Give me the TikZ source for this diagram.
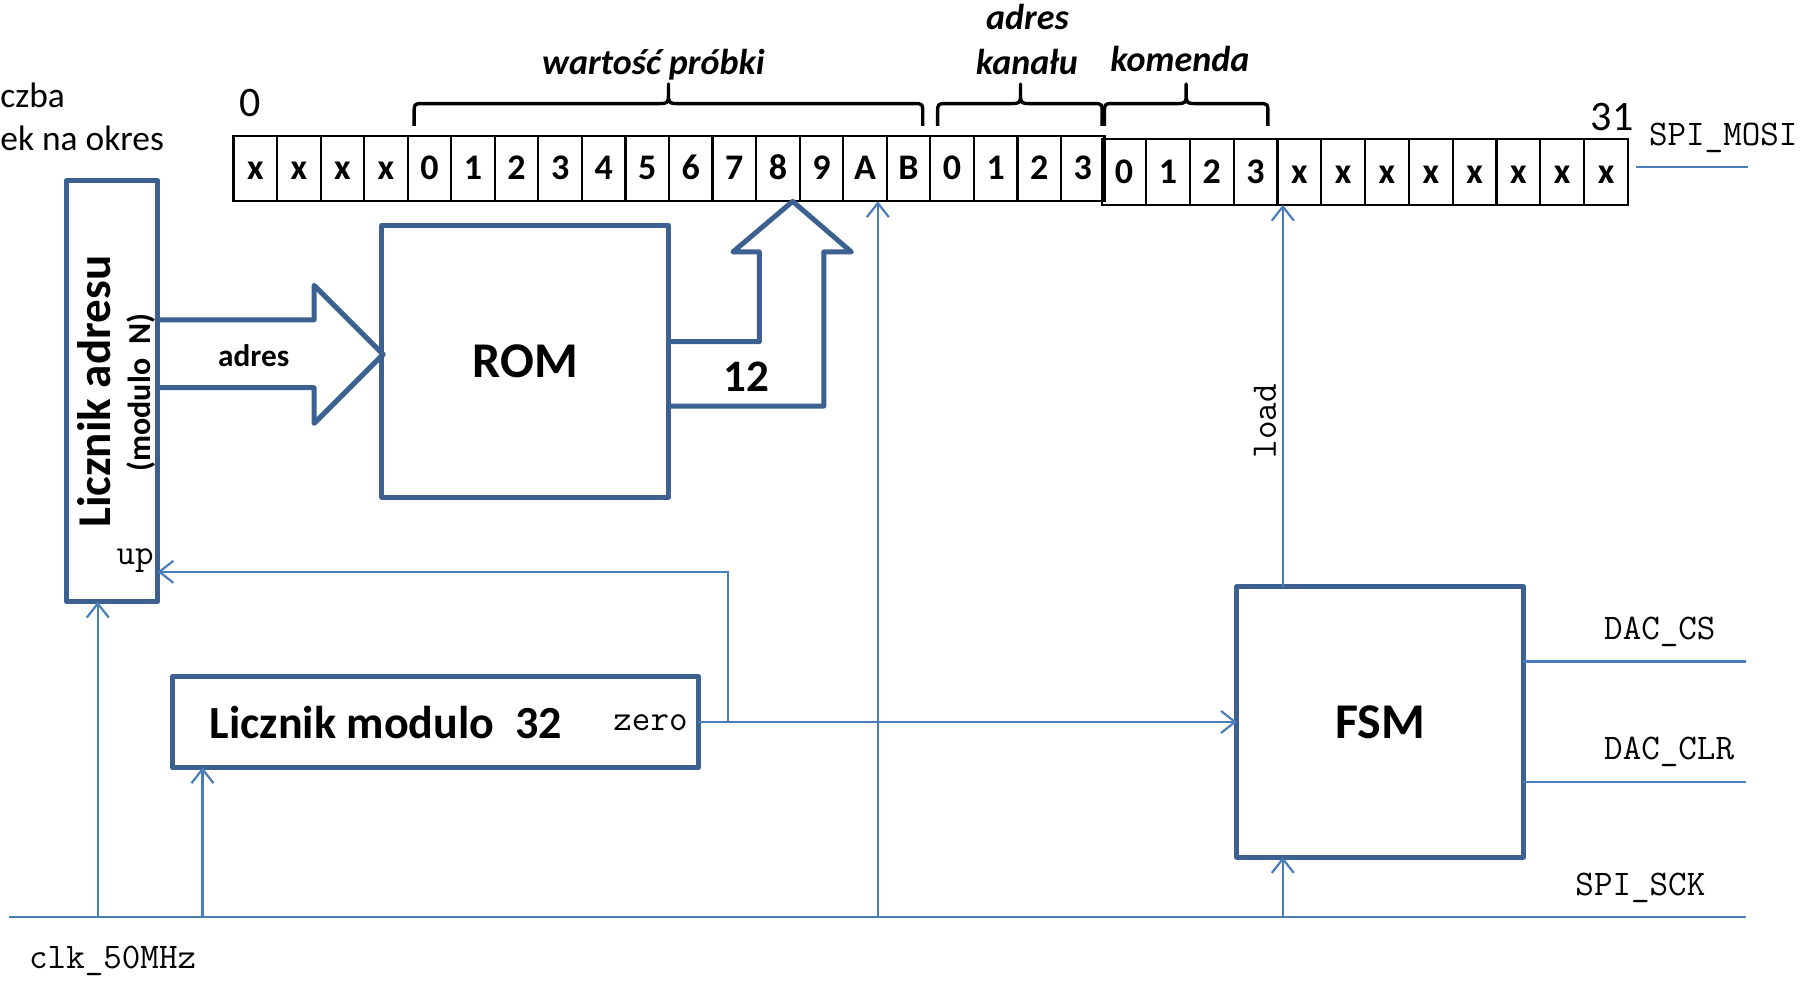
\documentclass[tikz,border=0pt]{standalone}
\usepackage{fontspec}
\setmainfont{Carlito}
\usetikzlibrary{arrows.meta}
\definecolor{boxc}{HTML}{3C6190}
\definecolor{linec}{HTML}{4A7EBB}
\newcommand\fsz[1]{\fontsize{#1}{#1}\selectfont}
\newcommand\mybrace[3]{\draw[brc] (#1,109.5) -- (#1,97) .. controls (#1,91) and (#1,90) .. ({#1+7},90) -- ({#2-7},90) .. controls ({#2-1},90) and (#2,89) .. (#2,83) -- (#2,73) -- (#2,83) .. controls (#2,89) and ({#2+1},90) .. ({#2+7},90) -- ({#3-7},90) .. controls (#3,90) and (#3,91) .. (#3,97) -- (#3,109.5);}
\begin{document}
\begin{tikzpicture}[x=0.575pt,y=-0.575pt,
  blk/.style={draw=boxc,line width=2.5pt,line join=round,inner sep=0pt,outer sep=0pt},
  box/.style={blk,fill=white},
  wire/.style={draw=linec,line width=1.1pt},
  arr/.style={wire,-{Straight Barb[length=7pt,width=11pt]}},
  cell/.style={draw=black,line width=1.1pt,inner sep=0pt,outer sep=0pt,font=\bfseries\fsz{18},text height=11.4pt,text depth=0pt},
  sig/.style={font=\ttfamily\fsz{18},inner sep=0pt},
  brc/.style={draw=black,line width=1.7pt,line join=round},
  lbl/.style={font=\bfseries\itshape\fsz{18},inner sep=0pt}]
\useasboundingbox (0,0) rectangle (1568,852);

% register cells
\foreach \t [count=\i from 0] in {x,x,x,x,0,1,2,3,4,5,6,7,8,9,A,B,0,1,2,3}
  \node[cell,minimum width=21.76pt,minimum height=32.78pt] (r\i) at ({203+(\i+0.5)*37.85},146.5) {\t};
\foreach \t [count=\i from 0] in {0,1,2,3,x,x,x,x,x,x,x,x}
  \node[cell,minimum width=21.9pt,minimum height=32.78pt] (s\i) at ({958+(\i+0.5)*38.08},149.5) {\t};

% braces and labels
\mybrace{360}{581}{802}
\mybrace{815}{887}{958}
\mybrace{960}{1031}{1102}
\node[lbl,anchor=base] (wp) at (568,65) {wartość próbki};
\node[lbl,anchor=base] (ak1) at (893,26) {adres};
\node[lbl,anchor=base] (ak2) at (892.5,65) {kanału};
\node[lbl,anchor=base] (kom) at (1025.5,62.3) {komenda};
\node[anchor=base west,inner sep=0pt,font=\fsz{21}] (n0) at (208,101) {0};
\node[anchor=base east,inner sep=0pt,font=\fsz{21}] (n31) at (1420,113) {31};
\node[anchor=base west,inner sep=0pt,font=\fsz{17.7}] (lp1) at (0,93) {czba};
\node[anchor=base west,inner sep=0pt,font=\fsz{17.7}] (lp2) at (0,131) {ek na okres};

% blocks
\node[box,minimum width=45.4pt,minimum height=210.5pt] (la) at (97.5,340) {};
\node[box,minimum width=143.2pt,minimum height=135.7pt,font=\bfseries\fsz{25}] (rom) at (456.5,314) {ROM};
\node[box,minimum width=262.8pt,minimum height=45.4pt] (lm) at (378.5,627.5) {};
\node[box,minimum width=143.2pt,minimum height=135.1pt,font=\bfseries\fsz{25}] (fsm) at (1199.5,627.5) {FSM};

\node[rotate=90,anchor=base,inner sep=0pt,font=\bfseries\fsz{23.5}] (latxt) at (96,340.5) {Licznik adresu};
\node[rotate=90,anchor=base,inner sep=0pt,font=\bfseries\fsz{16}] (lamod) at (131,341) {(modulo\ \ N)};
\node[sig,anchor=base east] (up) at (134,491) {up};
\node[anchor=base west,inner sep=0pt,font=\bfseries\fsz{23}] (lmtxt) at (182,641.5) {Licznik modulo\ \ 32};
\node[sig,anchor=base east] (zero) at (598,634.5) {zero};

% block arrows
\draw[blk] (137,278) -- (273,278) -- (273,248) -- (333,308) -- (273,368) -- (273,337) -- (137,337);
\node[font=\bfseries\fsz{15.6},inner sep=0pt] (adr) at (220.5,309) {adres};
\draw[blk] (581,297) -- (660,297) -- (660,219) -- (637,219) -- (689,175) -- (740,219) -- (716,219) -- (716,353) -- (581,353);
\node[font=\bfseries\fsz{22.5},inner sep=0pt] (n12) at (649,327.5) {12};

% wires
\coordinate (clkL) at (8,797);
\coordinate (clkR) at (1518,797);
\draw[wire] (clkL) -- (clkR);
\coordinate (j1) at (85,797);
\coordinate (j2) at (176,797);
\coordinate (j3) at (763,797);
\coordinate (j4) at (1115,797);
\draw[arr] (j1) -- (j1 |- la.south);
\draw[arr] (j2) -- (j2 |- lm.south);
\draw[arr] (j3) -- (j3 |- r14.south);
\draw[arr] (j4) -- (j4 |- fsm.south);
\draw[arr] (lm.east) -- (lm.east -| fsm.west);
\coordinate (br) at (633,627.5);
\coordinate (brt) at (633,497);
\draw[arr] (br) -- (brt) -- (brt -| la.east);
\draw[arr] (j4 |- fsm.north) -- (j4 |- s4.south);
\node[sig,rotate=90,anchor=base] (load) at (1109,366) {load};
\coordinate (cs) at (1518,575);
\coordinate (clr) at (1518,680);
\draw[wire] (cs -| fsm.east) -- (cs);
\draw[wire] (clr -| fsm.east) -- (clr);
\coordinate (mosiS) at (1422,145);
\coordinate (mosiE) at (1519,145);
\draw[wire] (mosiS) -- (mosiE);
\node[sig,anchor=base west] (dcs) at (1394,556) {DAC\_CS};
\node[sig,anchor=base west] (dclr) at (1394,660.5) {DAC\_CLR};
\node[sig,anchor=base west] (sck) at (1369,778) {SPI\_SCK};
\node[sig,anchor=base west] (mosi) at (1433,126.6) {SPI\_MOSI};
\node[sig,anchor=base west] (clk) at (25,842) {clk\_50MHz};
\end{tikzpicture}
\end{document}
